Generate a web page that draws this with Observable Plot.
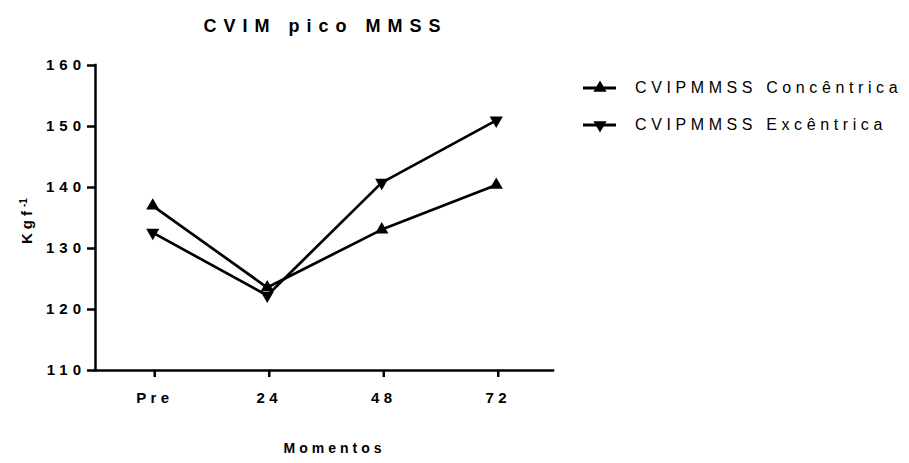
<!DOCTYPE html>
<html>
<head>
<meta charset="utf-8">
<script src="https://cdn.jsdelivr.net/npm/d3@7"></script>
<script src="https://cdn.jsdelivr.net/npm/@observablehq/plot@0.6"></script>
<style>
  body { margin: 0; background: #fff; }
  #wrap { position: relative; width: 909px; height: 463px; font-family: "Liberation Sans", Arial, sans-serif; }
  #wrap svg text { font-family: "Liberation Sans", Arial, sans-serif; }
  g[aria-label="y-axis tick label"] text { letter-spacing: 5px; }
  g[aria-label="x-axis tick label"] text { letter-spacing: 4.3px; }
  g.title text { letter-spacing: 7px; }
  g.xlab text { letter-spacing: 4px; }
  g.ylab text { letter-spacing: 4px; }
  #legend { position: absolute; left: 580px; top: 69px; font-size: 16px; letter-spacing: 4.6px; color: #000; }
  #legend .row { display: flex; align-items: center; height: 37px; }
  #legend svg { width: 55px; height: 20px; }
</style>
</head>
<body>
<div id="wrap"></div>
<script>
const moments = ["Pre", "24", "48", "72"];
const seriesNames = ["CVIPMMSS Concêntrica", "CVIPMMSS Excêntrica"];
const concentrica = [137.0, 123.6, 133.1, 140.4];
const excentrica = [132.6, 122.3, 140.8, 151.0];
const yTicks = [110, 120, 130, 140, 150, 160];
const titleText = "CVIM pico MMSS";
const xLabel = "Momentos";
const yLabel = "Kgf";
const yLabelSup = "-1";

const data = [];
moments.forEach((m, i) => {
  data.push({i, moment: m, series: seriesNames[0], value: concentrica[i]});
  data.push({i, moment: m, series: seriesNames[1], value: excentrica[i]});
});

const triDown = {
  draw(ctx, size) {
    const y = Math.sqrt(size / (Math.sqrt(3) * 3));
    ctx.moveTo(0, 2 * y);
    ctx.lineTo(-Math.sqrt(3) * y, -y);
    ctx.lineTo(Math.sqrt(3) * y, -y);
    ctx.closePath();
  }
};

const chart = Plot.plot({
  width: 909,
  height: 463,
  marginLeft: 95,
  marginRight: 356,
  marginTop: 65,
  marginBottom: 93,
  x: {type: "linear", domain: [-0.5, moments.length - 0.5]},
  y: {domain: [110, 160]},
  marks: [
    Plot.axisY({ticks: yTicks, tickSize: 8, tickPadding: 1.5, strokeWidth: 2.5, fontSize: 15, fontWeight: "bold", label: null, fill: "#000"}),
    Plot.axisX({ticks: moments.map((m, i) => i), tickFormat: i => moments[i], tickSize: 7, tickPadding: 15, strokeWidth: 2.5, fontSize: 15, fontWeight: "bold", label: null, fill: "#000", dx: 2}),
    Plot.ruleX([-0.5], {strokeWidth: 2.5, stroke: "#000", strokeLinecap: "square"}),
    Plot.ruleY([110], {strokeWidth: 2.5, stroke: "#000", strokeLinecap: "square"}),
    Plot.line(data, {x: "i", y: "value", z: "series", stroke: "#000", strokeWidth: 2.7}),
    Plot.dot(data.filter(d => d.series === seriesNames[0]), {x: "i", y: "value", symbol: "triangle", r: 4.9, fill: "#000", stroke: "none"}),
    Plot.dot(data.filter(d => d.series === seriesNames[1]), {x: "i", y: "value", symbol: triDown, r: 4.9, fill: "#000", stroke: "none"}),
    Plot.text([titleText], {frameAnchor: "top", dy: -46, dx: 1, fontSize: 18, fontWeight: "bold", fill: "#000", className: "title"}),
    Plot.text([xLabel], {frameAnchor: "bottom", dy: 82, dx: 10, fontSize: 14, fontWeight: "bold", fill: "#000", className: "xlab"}),
    Plot.text([yLabel], {frameAnchor: "left", dx: -68, dy: 26, rotate: -90, fontSize: 15, fontWeight: "bold", fill: "#000", className: "ylab"})
  ]
});
const wrap = document.getElementById("wrap");
wrap.appendChild(chart);

// superscript on y label
chart.querySelectorAll("g.ylab text").forEach(t => {
  const ts = document.createElementNS("http://www.w3.org/2000/svg", "tspan");
  ts.setAttribute("baseline-shift", "super");
  ts.setAttribute("font-size", "10");
  ts.style.letterSpacing = "0px";
  ts.textContent = yLabelSup;
  t.appendChild(ts);
});

// legend
const legend = document.createElement("div");
legend.id = "legend";
const tri = (down) => {
  const s = 4.9 * 4.9 * Math.PI;
  const y = Math.sqrt(s / (Math.sqrt(3) * 3));
  const k = down ? 1 : -1;
  return `M20,${10 + k * 2 * y} L${20 - Math.sqrt(3) * y},${10 - k * y} L${20 + Math.sqrt(3) * y},${10 - k * y} Z`;
};
seriesNames.forEach((name, j) => {
  const row = document.createElement("div");
  row.className = "row";
  row.innerHTML = `<svg viewBox="0 0 55 20"><line x1="3" x2="36" y1="10" y2="10" stroke="#000" stroke-width="3"/><path d="${tri(j === 1)}" fill="#000"/></svg><span>${name}</span>`;
  legend.appendChild(row);
});
wrap.appendChild(legend);
</script>
</body>
</html>
